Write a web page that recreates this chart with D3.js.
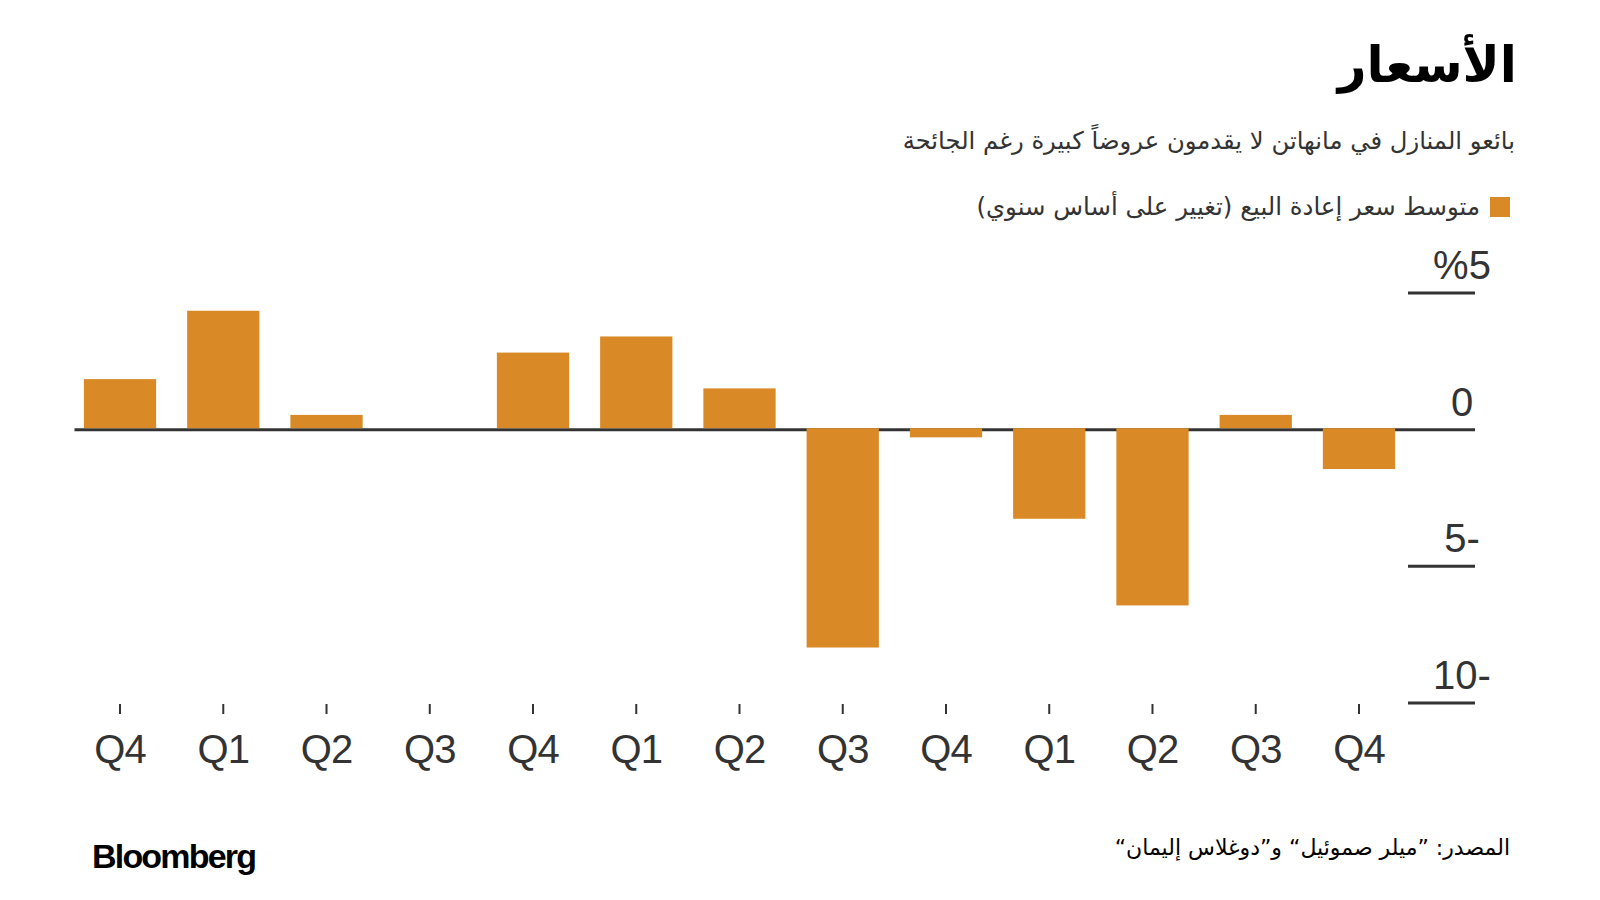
<!DOCTYPE html>
<html>
<head>
<meta charset="utf-8">
<script src="https://cdn.jsdelivr.net/npm/d3@7"></script>
<style>
  html, body { margin: 0; padding: 0; background: #fff; }
  svg { display: block; }
</style>
</head>
<body>
<svg id="chart" width="1600" height="900"></svg>
<script>
// ---- data ----
const categories = ["Q4","Q1","Q2","Q3","Q4","Q1","Q2","Q3","Q4","Q1","Q2","Q3","Q4"];
const values = [1.85, 4.35, 0.54, 0, 2.82, 3.41, 1.51, -7.97, -0.28, -3.26, -6.43, 0.54, -1.44];
const yTicks = [5, 0, -5, -10];
const yTickLabels = ["%5", "0", "5-", "10-"];
const titleText = "الأسعار";
const subtitleText = "بائعو المنازل في مانهاتن لا يقدمون عروضاً كبيرة رغم الجائحة";
const legendText = "متوسط سعر إعادة البيع (تغيير على أساس سنوي)";
const sourceText = "المصدر: ”ميلر صموئيل“ و”دوغلاس إليمان“";
const barColor = "#d98a27";
const ink = "#333333";

const svg = d3.select("#chart");
const arabicFont = "'DejaVu Sans', sans-serif";
const numFont = "'Liberation Sans', Arial, sans-serif";

// scales
const x = d3.scalePoint().domain(d3.range(categories.length)).range([68.4, 1410.6]).padding(0.5);
const step = x.step();
const barW = step * 0.7;
const y = d3.scaleLinear().domain([-10, 5]).range([703, 293]);

// title
svg.append("text")
  .attr("x", 1517).attr("y", 82)
  .attr("direction", "rtl").attr("text-anchor", "start")
  .style("font-family", arabicFont).style("font-weight", "bold")
  .style("font-size", "50px").attr("fill", "#000")
  .text(titleText);

// subtitle
svg.append("text")
  .attr("x", 1515).attr("y", 149)
  .attr("direction", "rtl").attr("text-anchor", "start")
  .style("font-family", arabicFont)
  .style("font-size", "24.3px").attr("fill", ink)
  .text(subtitleText);

// legend
svg.append("rect").attr("x", 1490).attr("y", 197).attr("width", 20).attr("height", 20).attr("fill", barColor);
svg.append("text")
  .attr("x", 1480).attr("y", 215)
  .attr("direction", "rtl").attr("text-anchor", "start")
  .style("font-family", arabicFont)
  .style("font-size", "24.4px").attr("fill", ink)
  .text(legendText);

// gridlines (short, right side) except zero
const gridG = svg.append("g");
gridG.selectAll("line.grid").data(yTicks.filter(d => d !== 0)).join("line")
  .attr("class", "grid")
  .attr("x1", 1408).attr("x2", 1475)
  .attr("y1", d => y(d)).attr("y2", d => y(d))
  .attr("stroke", ink).attr("stroke-width", 3);

// y labels
gridG.selectAll("text.ylab").data(yTicks).join("text")
  .attr("class", "ylab")
  .attr("x", 1462).attr("y", d => y(d) - 14)
  .attr("text-anchor", "middle")
  .style("font-family", numFont).style("font-size", "40px")
  .attr("fill", ink)
  .text((d, i) => yTickLabels[i]);

// zero line
svg.append("line")
  .attr("x1", 74.5).attr("x2", 1475)
  .attr("y1", y(0)).attr("y2", y(0))
  .attr("stroke", ink).attr("stroke-width", 3);

// bars
svg.append("g").selectAll("rect").data(values).join("rect")
  .attr("x", (d, i) => x(i) - barW / 2)
  .attr("width", barW)
  .attr("y", d => d >= 0 ? y(d) : y(0) - 1.5)
  .attr("height", d => d >= 0 ? y(0) - 1.5 - y(d) : y(d) - y(0) + 1.5)
  .attr("fill", barColor);

// x axis ticks and labels
const xg = svg.append("g");
xg.selectAll("line").data(categories).join("line")
  .attr("x1", (d, i) => x(i)).attr("x2", (d, i) => x(i))
  .attr("y1", 704).attr("y2", 714)
  .attr("stroke", ink).attr("stroke-width", 2);
xg.selectAll("text").data(categories).join("text")
  .attr("x", (d, i) => x(i)).attr("y", 763)
  .attr("text-anchor", "middle")
  .style("font-family", numFont).style("font-size", "40px")
  .style("letter-spacing", "-1px")
  .attr("fill", ink)
  .text(d => d);

// source
svg.append("text")
  .attr("x", 1510).attr("y", 855)
  .attr("direction", "rtl").attr("text-anchor", "start")
  .style("font-family", arabicFont)
  .style("font-size", "22px").attr("fill", "#000")
  .text(sourceText);

// Bloomberg
svg.append("text")
  .attr("x", 92).attr("y", 868)
  .style("font-family", numFont).style("font-weight", "bold")
  .style("font-size", "34px").style("letter-spacing", "-1.8px")
  .attr("fill", "#000")
  .text("Bloomberg");
</script>
</body>
</html>
